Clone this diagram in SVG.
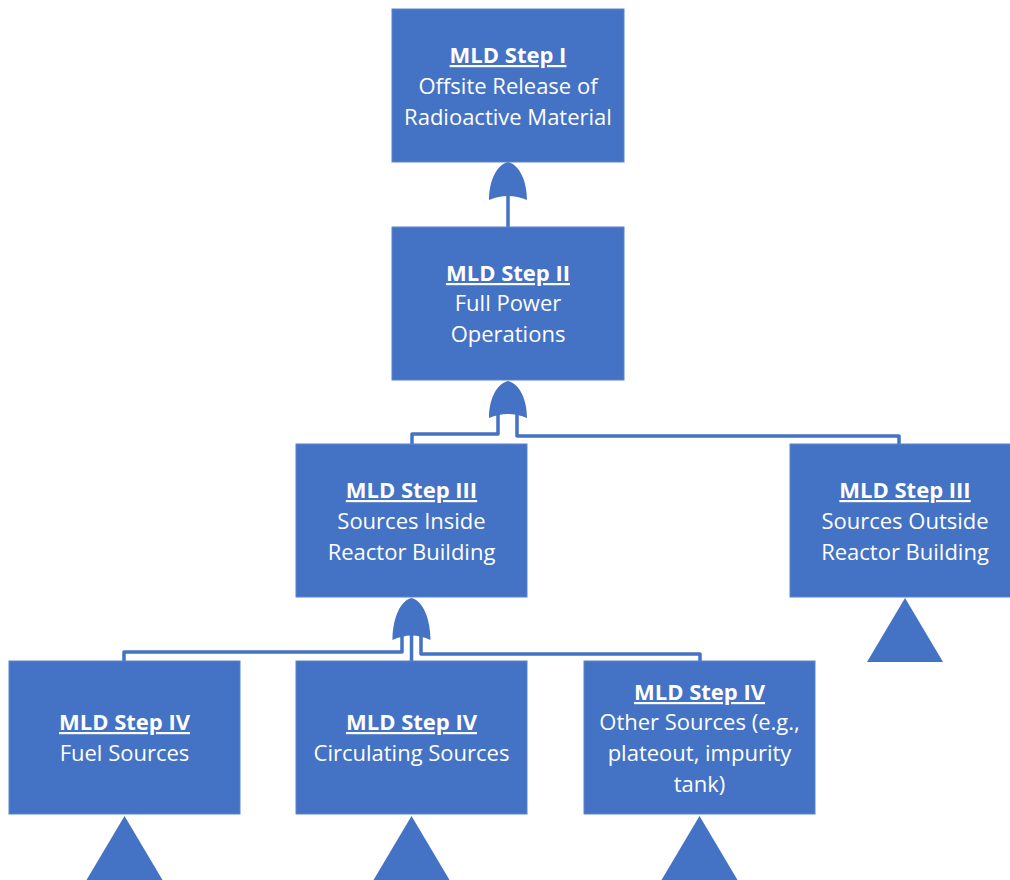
<svg xmlns="http://www.w3.org/2000/svg" width="1010" height="880" viewBox="0 0 1010 880">
<style>
.box{fill:#4472C4;stroke:#5a83cc;stroke-width:1}
.t{font-family:"Open Sans","Noto Sans",sans-serif;font-size:22px;fill:#ffffff;text-anchor:middle}
.h{font-weight:bold;text-decoration:underline}
.gate,.tri{fill:#4472C4}
.ln{fill:none;stroke:#4472C4;stroke-width:3.5;stroke-linejoin:round}
</style>
<rect width="1010" height="880" fill="#ffffff"/>
<g id="connectors">
<path class="ln" d="M508,196 V227"/>
<path class="ln" d="M498,414 V434 H412 V444"/>
<path class="ln" d="M517,414 V436 H899 V444"/>
<path class="ln" d="M402,634 V652 H124 V661"/>
<path class="ln" d="M411.5,634 V661"/>
<path class="ln" d="M421,634 V654 H700 V661"/>
</g>
<g id="gate1"><path class="gate" d="M508,162 C520,165 527,182 527,200 Q508,192 489,200 C489,182 496,165 508,162 Z"/></g>
<g id="gate2"><path class="gate" d="M508,381 C520,384 527,400 527,418 Q508,410 489,418 C489,400 496,384 508,381 Z"/></g>
<g id="gate3"><path class="gate" d="M411.5,598 C423.5,601 430.5,620 430.5,640 Q411.5,631 392.5,640 C392.5,620 399.5,601 411.5,598 Z"/></g>
<g id="n1">
<rect class="box" x="392" y="9" width="232" height="153"/>
<text class="t h" x="508" y="63">MLD Step I</text>
<text class="t" x="508" y="94">Offsite Release of</text>
<text class="t" x="508" y="125">Radioactive Material</text>
</g>
<g id="n2">
<rect class="box" x="392" y="227" width="232" height="153"/>
<text class="t h" x="508" y="281">MLD Step II</text>
<text class="t" x="508" y="311">Full Power</text>
<text class="t" x="508" y="342">Operations</text>
</g>
<g id="n3">
<rect class="box" x="296" y="444" width="231" height="153"/>
<text class="t h" x="411.5" y="498">MLD Step III</text>
<text class="t" x="411.5" y="529">Sources Inside</text>
<text class="t" x="411.5" y="560">Reactor Building</text>
</g>
<g id="n4">
<rect class="box" x="790" y="444" width="230" height="153"/>
<text class="t h" x="905" y="498">MLD Step III</text>
<text class="t" x="905" y="529">Sources Outside</text>
<text class="t" x="905" y="560">Reactor Building</text>
<polygon class="tri" points="905,598 943,662 867,662"/>
</g>
<g id="n5">
<rect class="box" x="9" y="661" width="231" height="153"/>
<text class="t h" x="124.5" y="730">MLD Step IV</text>
<text class="t" x="124.5" y="761">Fuel Sources</text>
<polygon class="tri" points="124.5,816 162.5,880 86.5,880"/>
</g>
<g id="n6">
<rect class="box" x="296" y="661" width="231" height="153"/>
<text class="t h" x="411.5" y="730">MLD Step IV</text>
<text class="t" x="411.5" y="761">Circulating Sources</text>
<polygon class="tri" points="411.5,816 449.5,880 373.5,880"/>
</g>
<g id="n7">
<rect class="box" x="584" y="661" width="231" height="153"/>
<text class="t h" x="699.5" y="700">MLD Step IV</text>
<text class="t" x="699.5" y="730">Other Sources (e.g.,</text>
<text class="t" x="699.5" y="761">plateout, impurity</text>
<text class="t" x="699.5" y="792">tank)</text>
<polygon class="tri" points="699.5,816 737.5,880 661.5,880"/>
</g>
</svg>
